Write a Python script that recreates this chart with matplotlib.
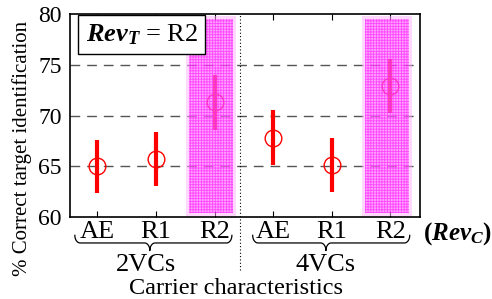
import numpy as np
import matplotlib
matplotlib.use('Agg')
import matplotlib.pyplot as plt
from matplotlib.patches import Rectangle
import matplotlib.transforms as mtransforms

plt.rcParams['font.family'] = 'Liberation Serif'
plt.rcParams['mathtext.fontset'] = 'custom'
plt.rcParams['mathtext.it'] = 'Liberation Serif:bold:italic'
plt.rcParams['mathtext.rm'] = 'Liberation Serif'
plt.rcParams['hatch.linewidth'] = 0.6

# data
tick_labels = ['AE', 'R1', 'R2', 'AE', 'R1', 'R2']
groups = ['2VCs', '4VCs']
means = [65.0, 65.7, 71.3, 67.8, 65.1, 72.9]
errs = [2.6, 2.65, 2.7, 2.7, 2.65, 2.65]
highlight = [2, 5]

x = np.arange(len(means))

fig = plt.figure(figsize=(4.92, 2.99), dpi=100)
ax = fig.add_axes([0.142, 0.274, 0.711, 0.679])
trans = mtransforms.blended_transform_factory(ax.transData, ax.transAxes)

for yv in [65, 70, 75]:
    ax.axhline(yv, color='#555555', lw=1.0, ls=(0, (7, 5)), zorder=1)

ax.errorbar(x, means, yerr=errs, fmt='o', color='red', ecolor='red', elinewidth=3.0,
            capsize=0, markersize=12, markerfacecolor='none', markeredgewidth=1.0, zorder=3)

# highlighted boxes
for h in highlight:
    ax.add_patch(Rectangle((h - 0.49, 60.1), 0.86, 19.7, facecolor='#ffb0ff', alpha=0.5,
                           edgecolor='none', zorder=4))
    ax.add_patch(Rectangle((h - 0.44, 60.4), 0.76, 19.1, facecolor='#ff44ff', alpha=0.35,
                           edgecolor='none', zorder=5))
    ax.add_patch(Rectangle((h - 0.44, 60.4), 0.76, 19.1, facecolor='none', alpha=0.55,
                           edgecolor='#ff00ff', lw=0, hatch='++++++', zorder=5))

ax.axvline(2.43, color='black', lw=0.8, ls=(0, (1, 2)), ymin=-0.26, ymax=1, clip_on=False)

ax.set_xlim(-0.47, 5.5)
ax.set_ylim(60, 80)
ax.set_yticks([60, 65, 70, 75, 80])
ax.tick_params(axis='y', length=0, labelsize=17, pad=6)
ax.set_xticks(x)
ax.set_xticklabels(tick_labels, fontsize=19)
ax.tick_params(axis='x', direction='in', length=4, top=True, pad=3)
for s in ax.spines.values():
    s.set_linewidth(1.2)

fig.text(0.045, 0.505, '% Correct target identification', fontsize=15, rotation=90,
         ha='center', va='center')

ax.text(0.045, 0.9, r'$Rev_T$ = R2', transform=ax.transAxes, fontsize=19, va='center',
        ha='left', bbox=dict(boxstyle='square,pad=0.28', fc='white', ec='black', lw=1.0), zorder=6)

ax.text(5.55, -0.08, r'($Rev_C$)', transform=trans, fontsize=18, fontweight='bold',
        ha='left', va='center')


def brace(x0, x1, xm, ytop, ybot, d=0.09):
    th = np.linspace(0, np.pi / 2, 30)
    ymid = (ytop + ybot) / 2
    xs = np.concatenate([x0 + d * (1 - np.cos(th)),
                         xm - d + d * np.sin(th),
                         xm + d * (1 - np.cos(th)),
                         x1 - d + d * np.sin(th)])
    ys = np.concatenate([ymid + (ytop - ymid) * (1 - np.sin(th)),
                         ymid - (ymid - ybot) * (1 - np.cos(th)),
                         ybot + (ymid - ybot) * np.sin(th),
                         ymid + (ytop - ymid) * (1 - np.cos(th))])
    ax.plot(xs, ys, color='black', lw=0.9, transform=trans, clip_on=False)


brace(-0.385, 2.295, 0.895, -0.09, -0.165)
brace(2.65, 5.33, 3.90, -0.09, -0.165)

for gx, g in zip([0.83, 3.90], groups):
    ax.text(gx, -0.238, g, transform=trans, fontsize=19, ha='center', va='center')

fig.text(0.48, 0.035, 'Carrier characteristics', fontsize=17.5, ha='center', va='center')

fig.savefig('out.png', dpi=100)
